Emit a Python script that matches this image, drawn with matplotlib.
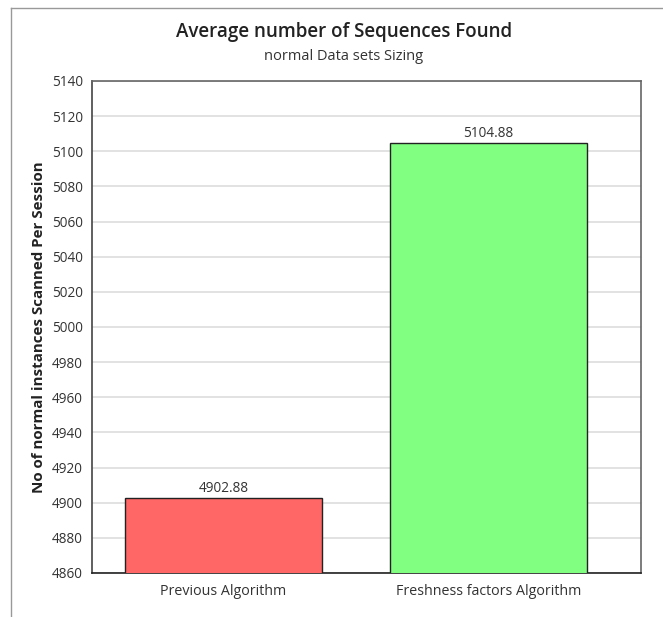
import matplotlib
matplotlib.use("Agg")
import matplotlib.pyplot as plt
from matplotlib.lines import Line2D

categories = ["Previous Algorithm", "Freshness factors Algorithm"]
values = [4902.88, 5104.88]
colors = ["#FF6666", "#80FF80"]
y_ticks = list(range(4860, 5141, 20))

plt.rcParams["font.family"] = ["Open Sans", "DejaVu Sans"]

fig = plt.figure(figsize=(6.63, 6.17), dpi=100)
W, H = 663, 617
ax = fig.add_axes([91.5 / W, 1 - 573 / H, (641 - 91.5) / W, (573 - 81) / H])

x = list(range(len(categories)))
ax.bar(x, values, width=0.743, color=colors, edgecolor="#222222", linewidth=1.0, zorder=3)
for xi, v in zip(x, values):
    ax.text(xi, v + 1.2, f"{v:.2f}", ha="center", va="bottom", fontsize=9.8, color="#333333")

ax.set_ylim(4860, 5140)
ax.set_xlim(-0.498, 1.575)
ax.set_yticks(y_ticks)
ax.set_yticklabels([str(t) for t in y_ticks], fontsize=9.8, color="#333333")
ax.set_xticks(x)
ax.set_xticklabels(categories, fontsize=10.3, color="#333333")
ax.tick_params(axis="both", length=0, pad=6)
ax.tick_params(axis="x", pad=8)
ax.grid(axis="y", color="#DDDDDD", linewidth=1.2, zorder=0)
for s in ax.spines.values():
    s.set_color("#666666")
    s.set_linewidth(1.2)
ax.spines["left"].set_color("#444444")
ax.spines["bottom"].set_color("#222222")

ax.set_ylabel("No of normal instances Scanned Per Session", fontsize=10.9, fontweight="bold",
              color="#222222", labelpad=4.5)

fig.text(344 / W, 1 - 31.5 / H, "Average number of Sequences Found", ha="center", va="center",
         fontsize=13.5, fontweight="semibold", color="#222222")
fig.text(344 / W, 1 - 57 / H, "normal Data sets Sizing", ha="center", va="center",
         fontsize=10.5, color="#333333")

# outer frame lines
fig.add_artist(Line2D([11 / W, 1.0], [1 - 8 / H, 1 - 8 / H], transform=fig.transFigure,
                      color="#999999", linewidth=1.0))
fig.add_artist(Line2D([11 / W, 11 / W], [0.0, 1 - 8 / H], transform=fig.transFigure,
                      color="#999999", linewidth=1.0))

fig.savefig("out.png", dpi=100)
